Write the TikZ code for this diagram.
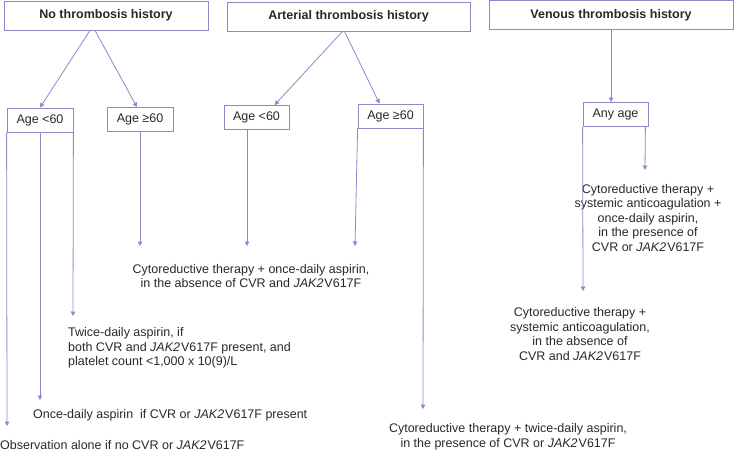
\documentclass[tikz,border=0pt]{standalone}
\usepackage{fontspec}
\setmainfont{Liberation Sans}
\usetikzlibrary{arrows.meta}
\definecolor{flowblue}{RGB}{138,138,200}
\definecolor{inkgray}{RGB}{40,40,40}
\newcommand{\jak}{\textit{JAK2}\kern1pt V617F}
\tikzset{
  headbox/.style={draw=flowblue, line width=0.8pt, minimum height=29pt, text=inkgray, font=\bfseries\fontsize{12.5}{14.5}\selectfont, inner sep=0pt},
  agebox/.style={draw=flowblue, line width=0.8pt, minimum height=24pt, text=inkgray, font=\fontsize{12.5}{14.5}\selectfont, inner sep=0pt},
  advice/.style={text=inkgray, font=\fontsize{12.5}{14.5}\selectfont, inner sep=0pt},
  flow/.style={draw=flowblue, line width=0.8pt, -{Triangle[width=4.5pt,length=4.5pt]}}
}
\begin{document}
\begin{tikzpicture}[x=1pt,y=-1pt]
  \useasboundingbox (0,0) rectangle (739,452);
  % history boxes
  \node[headbox, minimum width=204pt] (none) at (106,15.5) {No thrombosis history};
  \node[headbox, minimum width=243pt] (arterial) at (348.5,16.5) {Arterial thrombosis history};
  \node[headbox, minimum width=244pt] (venous) at (611,15) {Venous thrombosis history};
  % age boxes
  \node[agebox, minimum width=66pt] (noneyoung) at (40,120) {Age <60};
  \node[agebox, minimum width=66pt] (noneold) at (140,119.5) {Age ≥60};
  \node[agebox, minimum width=65pt] (artyoung) at (256.5,117.5) {Age <60};
  \node[agebox, minimum width=65pt] (artold) at (390.5,116) {Age ≥60};
  \node[agebox, minimum width=65pt] (anyage) at (615.5,114.5) {Any age};
  % recommendations
  \node[advice, align=center] (cytoonce) at (251,276) {Cytoreductive therapy + once-daily aspirin,\\in the absence of CVR and \jak};
  \node[advice, align=center] (venpresent) at (648,218) {Cytoreductive therapy +\\systemic anticoagulation +\\once-daily aspirin,\\in the presence of\\CVR or \jak};
  \node[advice, align=center] (venabsent) at (580,334) {Cytoreductive therapy +\\systemic anticoagulation,\\in the absence of\\CVR and \jak};
  \node[advice, align=center] (cytotwice) at (508,437) {Cytoreductive therapy + twice-daily aspirin,\\in the presence of CVR or \jak};
  \node[advice, align=left, anchor=west] (twice) at (68,348) {Twice-daily aspirin, if\\both CVR and \jak{} present, and\\platelet count <1,000 x 10(9)/L};
  \node[advice, anchor=west] (once) at (33,415) {Once-daily aspirin\ \ if CVR or \jak{} present};
  \node[advice, anchor=west] (observe) at (0,445) {Observation alone if no CVR or \jak};
  % arrow tips
  \coordinate (tipobserve) at (7,426);
  \coordinate (tiponce) at (40,400);
  \coordinate (tiptwice) at (73,316);
  \coordinate (tipold) at (140,246);
  \coordinate (tipartyoung) at (247,246);
  \coordinate (tipartold) at (355,246);
  \coordinate (tiptwiceart) at (423,409);
  \coordinate (tipabsent) at (583,291);
  \coordinate (tippresent) at (645,170);
  % branches
  \draw[flow] ([xshift=-16pt]none.south) -- (noneyoung.north);
  \draw[flow] ([xshift=-11pt]none.south) -- ([xshift=-3pt]noneold.north);
  \draw[flow] ([xshift=-6pt]arterial.south) -- ([xshift=18pt]artyoung.north);
  \draw[flow] ([xshift=-4pt]arterial.south) -- ([xshift=-11pt]artold.north);
  \draw[flow] (venous.south) -- ([xshift=-4.5pt]anyage.north);
  \draw[flow] (noneyoung.south west) -- (tipobserve);
  \draw[flow] (noneyoung.south) -- (tiponce);
  \draw[flow] (noneyoung.south east) -- (tiptwice);
  \draw[flow] (noneold.south) -- (tipold);
  \draw[flow] ([xshift=-9.5pt]artyoung.south) -- (tipartyoung);
  \draw[flow] (artold.south west) -- (tipartold);
  \draw[flow] (artold.south east) -- (tiptwiceart);
  \draw[flow] (anyage.south west) -- (tipabsent);
  \draw[flow] ([xshift=-3pt]anyage.south east) -- (tippresent);
\end{tikzpicture}
\end{document}
